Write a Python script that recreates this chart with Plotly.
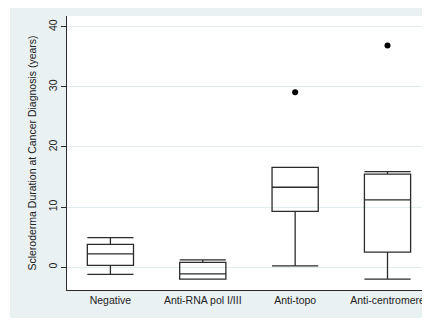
import plotly.graph_objects as go

categories = ["Negative", "Anti-RNA pol I/III", "Anti-topo", "Anti-centromere"]
lower_whisker = [-1.2, -2.0, 0.2, -2.0]
q1_vals = [0.3, -2.0, 9.3, 2.5]
median_vals = [2.2, -1.1, 13.3, 11.2]
q3_vals = [3.8, 0.8, 16.6, 15.5]
upper_whisker = [4.9, 1.2, 16.6, 15.9]
outlier_cats = ["Anti-topo", "Anti-centromere"]
outlier_vals = [29.1, 36.9]
y_ticks = [0, 10, 20, 30, 40]

BG = "#EAF1F3"
LINE = "#2b2b2b"
FONT = "Liberation Sans, Arial, sans-serif"

fig = go.Figure()
for i, c in enumerate(categories):
    fig.add_trace(go.Box(
        x=[c], q1=[q1_vals[i]], median=[median_vals[i]], q3=[q3_vals[i]],
        lowerfence=[lower_whisker[i]], upperfence=[upper_whisker[i]],
        fillcolor="rgba(0,0,0,0)", line=dict(color=LINE, width=1.3),
        whiskerwidth=1, width=0.5, boxpoints=False, showlegend=False,
    ))
fig.add_trace(go.Scatter(
    x=outlier_cats, y=outlier_vals, mode="markers",
    marker=dict(color="black", size=6), showlegend=False,
))

fig.update_layout(
    width=422, height=312,
    margin=dict(l=59, r=0, t=8, b=30),
    paper_bgcolor="white", plot_bgcolor="white",
    font=dict(family=FONT, size=10.5, color="#222"),
    shapes=[
        dict(type="rect", xref="paper", yref="paper", layer="below",
             x0=-57/363, x1=1.0, y0=-28/274, y1=1 + 11/274,
             fillcolor=BG, line=dict(width=0)),
        dict(type="rect", xref="x domain", yref="y domain", layer="below",
             x0=0, x1=1, y0=0, y1=1, fillcolor="white", line=dict(width=0)),
    ],
)
fig.update_xaxes(
    type="category", categoryorder="array", categoryarray=categories,
    range=[-0.47, 3.46], showgrid=False, zeroline=False,
    showline=True, linecolor=LINE, linewidth=1, ticks="",
    tickfont=dict(size=10.5, color="#222"),
)
fig.update_yaxes(
    range=[-3.8, 41.8], tickvals=y_ticks, ticktext=[str(v) for v in y_ticks],
    tickangle=-90, showgrid=True, gridcolor="#E3ECEF", gridwidth=1,
    zeroline=False, showline=True, linecolor=LINE, linewidth=1,
    ticks="outside", ticklen=5, tickcolor=LINE,
    title=dict(text="Scleroderma Duration at Cancer Diagnosis (years)",
               font=dict(size=10.5, color="#222"), standoff=8),
    tickfont=dict(size=10.5, color="#222"),
)
fig.write_html("out.html")
